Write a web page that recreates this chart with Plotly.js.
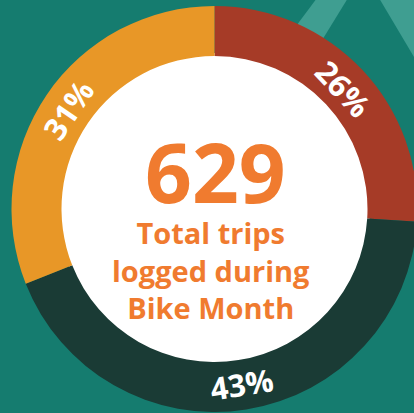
<!DOCTYPE html>
<html>
<head>
<meta charset="utf-8">
<script src="https://cdn.plot.ly/plotly-3.0.1.min.js"></script>
<style>
html, body { margin:0; padding:0; overflow:hidden; background:#157C6F; width:414px; height:413px; }
#chart { width:418px; height:413px; }
</style>
</head>
<body>
<div id="chart"></div>
<script>
// Data
const categories = ["Segment A", "Segment B", "Segment C"];
const shares = [26, 43, 31];
const shareLabels = ["26%", "43%", "31%"];
const sliceColors = ["#A63B27", "#1A3B35", "#E89727"];
const totalTrips = "629";
const centerLines = ["Total trips", "logged during", "Bike Month"];

const W = 418, H = 413;
const px = x => x / W;
const py = y => 1 - y / H;
const cx = 214, cy = 209, R = 203, r = 153;

function poly(pts) {
  return 'M ' + pts.map(p => px(p[0]) + ',' + py(p[1])).join(' L ') + ' Z';
}

const shapes = [
  {type:'path', xref:'paper', yref:'paper', layer:'below', line:{width:0}, fillcolor:'#3F9E91',
   path: poly([[317,-2],[348,-2],[273,120],[226,120]])},
  {type:'path', xref:'paper', yref:'paper', layer:'below', line:{width:0}, fillcolor:'#3F9E91',
   path: poly([[379,-2],[430,-2],[430,84]])},
  {type:'circle', xref:'paper', yref:'paper', layer:'below', line:{width:0}, fillcolor:'#FFFFFF',
   x0: px(cx - r - 3), x1: px(cx + r + 3), y0: py(cy + r + 3), y1: py(cy - r - 3)}
];

const orange = '#F07B2F';
const fontFam = '"Open Sans", "Noto Sans", sans-serif';
const annotations = [
  {text: '<b>' + totalTrips + '</b>', x: px(215.5), y: py(171), xref:'paper', yref:'paper', showarrow:false,
   xanchor:'center', yanchor:'middle', font:{family:fontFam, size:82, color:orange}},
  {text: centerLines.map(t => '<b>' + t + '</b>').join('<br>'), x: px(211.5), y: py(269.5), xref:'paper', yref:'paper', showarrow:false,
   xanchor:'center', yanchor:'middle', align:'center', font:{family:fontFam, size:29, color:orange}}
];

// percentage labels placed along the ring at each slice's mid-angle
const total = shares.reduce((a, b) => a + b, 0);
let cum = 0;
const rl = 177;
shares.forEach((s, i) => {
  const mid = (cum + s / 2) / total * 360;
  cum += s;
  const rad = mid * Math.PI / 180;
  let ang = mid;
  if (mid > 90 && mid < 270) ang = mid - 180;
  else if (mid >= 270) ang = mid - 360;
  annotations.push({
    text: '<b>' + shareLabels[i] + '</b>',
    x: px(cx + rl * Math.sin(rad)), y: py(cy - rl * Math.cos(rad)),
    xref:'paper', yref:'paper', showarrow:false, xanchor:'center', yanchor:'middle',
    textangle: ang,
    font:{family:fontFam, size:31, color:'#FFFFFF'}
  });
});

const trace = {
  type: 'pie',
  labels: categories,
  values: shares,
  sort: false,
  direction: 'clockwise',
  rotation: 0,
  hole: r / R,
  marker: {colors: sliceColors, line:{width:0}},
  textinfo: 'none',
  showlegend: false,
  hoverinfo: 'none',
  domain: {x: [(cx - R) / W, 1], y: [(H - (cy + R)) / H, (H - (cy - R)) / H]}
};

const layout = {
  width: W, height: H,
  margin: {l:0, r:0, t:0, b:0},
  paper_bgcolor: '#157C6F',
  plot_bgcolor: '#157C6F',
  showlegend: false,
  shapes: shapes,
  annotations: annotations
};

Plotly.newPlot('chart', [trace], layout, {displayModeBar:false, staticPlot:true});
</script>
</body>
</html>
